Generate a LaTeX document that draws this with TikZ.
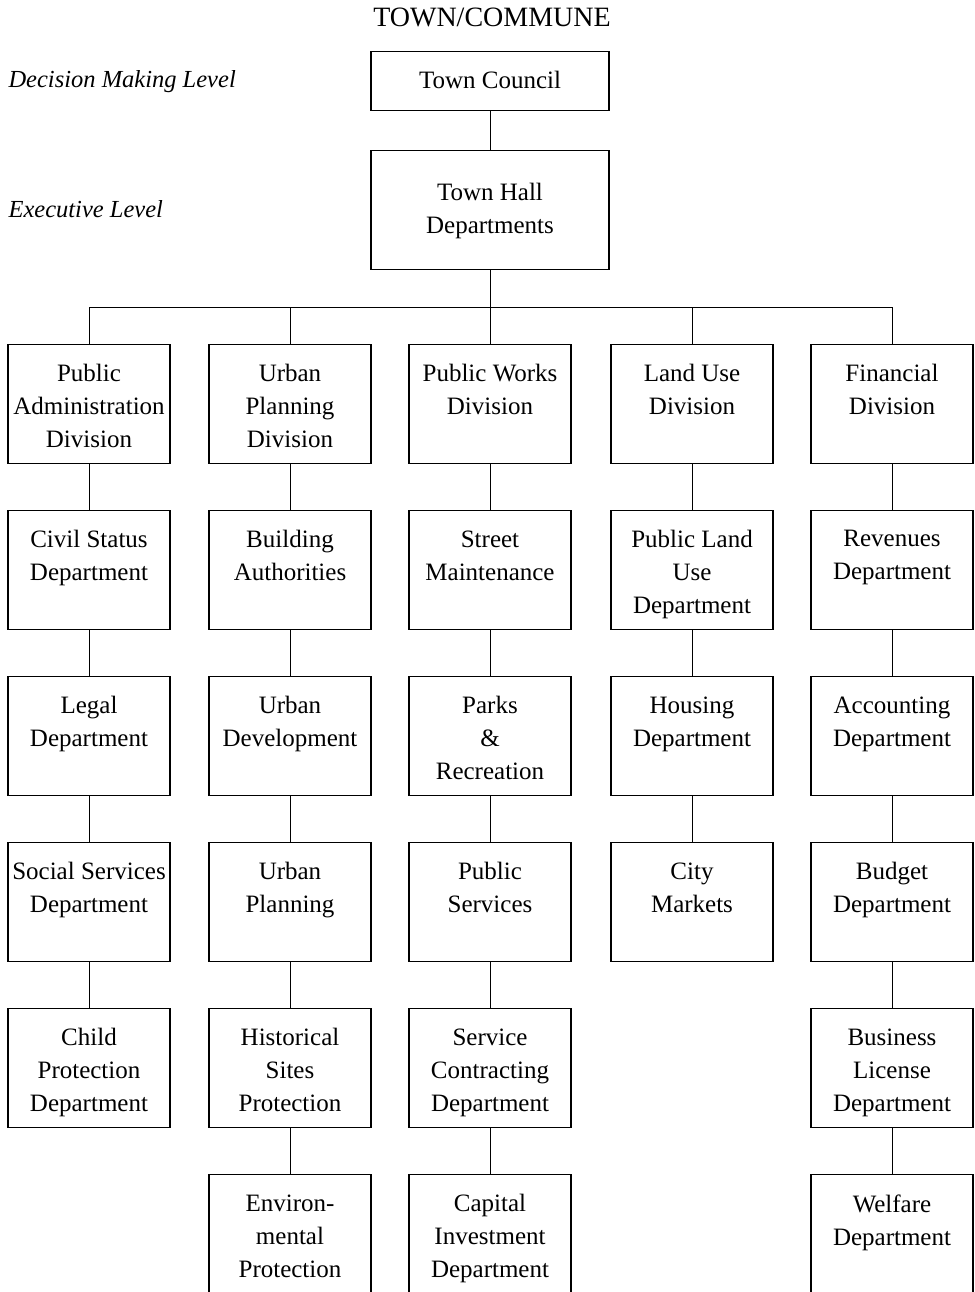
\documentclass[tikz,border=0pt]{standalone}
\usepackage{fontspec}
\setmainfont{Liberation Serif}
\begin{document}
\begin{tikzpicture}[x=1pt,y=-1pt,line width=1.1pt,
  box/.style={draw,minimum width=162pt,minimum height=119pt,inner sep=0pt,anchor=north},
  topbox/.style={draw,minimum width=238pt,inner sep=0pt,anchor=north},
  txt/.style={anchor=north,align=center,inner sep=0pt,font=\fontsize{25}{33}\selectfont},
  lvl/.style={anchor=base west,inner sep=0pt,font=\itshape\fontsize{24.5}{28}\selectfont},
  link/.style={line width=1pt}]
\useasboundingbox (0,0) rectangle (974,1292);
\clip (0,0) rectangle (974,1292);

% one box of the chart: name, centre x, top y, text (set from the top)
\newcommand\unitbox[4]{%
  \node[box] (#1) at (#2,#3) {};
  \node[txt] (#1-t) at (#2,#3+20) {#4};}

% heading and level captions
\node[anchor=base,inner sep=0pt,font=\fontsize{28}{30}\selectfont] (title) at (492,27) {TOWN/COMMUNE};
\node[lvl] (lvl-dec) at (8,88) {Decision Making Level};
\node[lvl] (lvl-exe) at (8,217) {Executive Level};

% top of the hierarchy
\node[topbox,minimum height=59pt] (council) at (490,51) {};
\node[txt,anchor=base] (council-t) at (490,89) {Town Council};
\node[topbox,minimum height=119pt] (hall) at (490,150) {};
\node[txt] (hall-t) at (490,183) {Town Hall\\Departments};
\draw[link] (council.south) -- (hall.north);

% column 1
\unitbox{a1}{89}{344}{Public\\Administration\\Division}
\unitbox{a2}{89}{510}{Civil Status\\Department}
\unitbox{a3}{89}{676}{Legal\\Department}
\unitbox{a4}{89}{842}{Social Services\\Department}
\unitbox{a5}{89}{1008}{Child\\Protection\\Department}

% column 2
\unitbox{b1}{290}{344}{Urban\\Planning\\Division}
\unitbox{b2}{290}{510}{Building\\Authorities}
\unitbox{b3}{290}{676}{Urban\\Development}
\unitbox{b4}{290}{842}{Urban\\Planning}
\unitbox{b5}{290}{1008}{Historical\\Sites\\Protection}
\unitbox{b6}{290}{1174}{Environ-\\mental\\Protection}

% column 3
\unitbox{c1}{490}{344}{Public Works\\Division}
\unitbox{c2}{490}{510}{Street\\Maintenance}
\unitbox{c3}{490}{676}{Parks\\\&\\Recreation}
\unitbox{c4}{490}{842}{Public\\Services}
\unitbox{c5}{490}{1008}{Service\\Contracting\\Department}
\unitbox{c6}{490}{1174}{Capital\\Investment\\Department}

% column 4
\unitbox{d1}{692}{344}{Land Use\\Division}
\unitbox{d2}{692}{510}{Public Land\\Use\\Department}
\unitbox{d3}{692}{676}{Housing\\Department}
\unitbox{d4}{692}{842}{City\\Markets}

% column 5
\unitbox{e1}{892}{344}{Financial\\Division}
\unitbox{e2}{892}{510}{Revenues\\Department}
\unitbox{e3}{892}{676}{Accounting\\Department}
\unitbox{e4}{892}{842}{Budget\\Department}
\unitbox{e5}{892}{1008}{Business\\License\\Department}
\unitbox{e6}{892}{1174}{Welfare\\Department}

% bus from the town hall to the divisions
\coordinate (bus) at (490,307);
\draw[link] (hall.south) -- (bus);
\draw[link] (a1.north) -- (a1.north |- bus) -- (e1.north |- bus) -- (e1.north);
\foreach \n in {b1,c1,d1} \draw[link] (\n.north) -- (\n.north |- bus);

% vertical links inside each column
\foreach \u/\l in {a1/a2,a2/a3,a3/a4,a4/a5,
                   b1/b2,b2/b3,b3/b4,b4/b5,b5/b6,
                   c1/c2,c2/c3,c3/c4,c4/c5,c5/c6,
                   d1/d2,d2/d3,d3/d4,
                   e1/e2,e2/e3,e3/e4,e4/e5,e5/e6}
  \draw[link] (\u.south) -- (\l.north);
\end{tikzpicture}
\end{document}
